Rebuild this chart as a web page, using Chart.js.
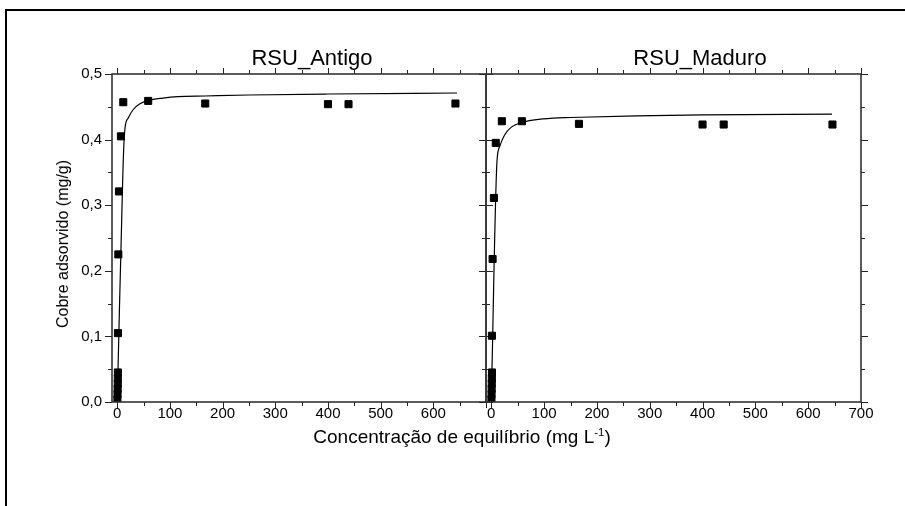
<!DOCTYPE html>
<html>
<head>
<meta charset="utf-8">
<script src="https://cdn.jsdelivr.net/npm/chart.js@4"></script>
<style>
body { margin: 0; background: #fff; }
#wrap { position: relative; width: 905px; height: 506px; overflow: hidden; background: #fff; }
#frame { position: absolute; left: 5px; top: 9px; width: 920px; height: 520px; border-top: 2px solid #000; border-left: 2px solid #000; }
canvas { position: absolute; left: 0; top: 0; }
.lbl { position: absolute; font-family: "Liberation Sans", Arial, sans-serif; color: #000; white-space: nowrap; transform: translate(-50%, -50%); }
.lbl sup { font-size: 60%; }
</style>
</head>
<body>
<div id="wrap">
    <div id="frame"></div>
    <canvas id="antigoChart" width="905" height="506"></canvas>
    <canvas id="maduroChart" width="905" height="506"></canvas>
    <div class="lbl" style="left:312px; top:58px; font-size:22px;">RSU_Antigo</div>
    <div class="lbl" style="left:700px; top:58px; font-size:22px;">RSU_Maduro</div>
    <div class="lbl" style="left:63px; top:244px; font-size:16px; transform: translate(-50%, -50%) rotate(-90deg);">Cobre adsorvido (mg/g)</div>
    <div class="lbl" style="left:462px; top:437px; font-size:19px;">Concentração de equilíbrio (mg L<sup>-1</sup>)</div>
</div>
<script>
// measured points, RSU_Antigo
const antigoX = [0.3, 0.5, 0.7, 0.9, 1.0, 1.2, 1.3, 2, 3.2, 7, 11.4, 58.7, 167, 400, 439, 642];
const antigoY = [0.004, 0.012, 0.02, 0.028, 0.036, 0.045, 0.105, 0.225, 0.321, 0.405, 0.457, 0.459, 0.455, 0.454, 0.454, 0.455];
// fitted curve, RSU_Antigo
const antigoFitX = [0, 11, 14.6, 20.8, 30, 43, 58.7, 87, 115, 167, 250, 400, 645];
const antigoFitY = [0, 0.36, 0.417, 0.433, 0.4455, 0.4545, 0.4595, 0.4633, 0.4655, 0.4665, 0.468, 0.4695, 0.471];

// measured points, RSU_Maduro
const maduroX = [0.3, 0.5, 0.7, 0.9, 1.1, 1.3, 1.2, 2.5, 5, 8.5, 20, 58, 166, 400, 440, 646];
const maduroY = [0.004, 0.012, 0.02, 0.028, 0.036, 0.045, 0.101, 0.218, 0.311, 0.395, 0.428, 0.428, 0.424, 0.423, 0.423, 0.423];
// fitted curve, RSU_Maduro
const maduroFitX = [0, 10.6, 15.7, 25.2, 38, 57, 82, 117, 150, 275, 400, 645];
const maduroFitY = [0, 0.364, 0.389, 0.407, 0.419, 0.426, 0.430, 0.4328, 0.4337, 0.4363, 0.4378, 0.4389];

// tick labels and tick marks
const antigoXLabels = [0, 100, 200, 300, 400, 500, 600];
const maduroXLabels = [0, 100, 200, 300, 400, 500, 600, 700];
const yLabels = [0, 0.1, 0.2, 0.3, 0.4, 0.5];
const xMarks = [0, 50, 100, 150, 200, 250, 300, 350, 400, 450, 500, 550, 600, 650, 700];
const yMarks = [0, 0.05, 0.1, 0.15, 0.2, 0.25, 0.3, 0.35, 0.4, 0.45, 0.5];

Chart.defaults.font.family = '"Liberation Sans", Arial, sans-serif';
Chart.defaults.font.size = 15;
Chart.defaults.color = "#000";

function toPoints(xs, ys) {
    return xs.map((x, i) => ({ x: x, y: ys[i] }));
}

// box round the plot and tick marks on all four sides, pointing out
const boxTicks = {
    id: "boxTicks",
    afterDraw(chart) {
        let ctx = chart.ctx;
        let a = chart.chartArea;
        let sx = chart.scales.x;
        let sy = chart.scales.y;
        ctx.save();
        ctx.strokeStyle = "#222";
        ctx.lineWidth = 1;
        ctx.beginPath();
        xMarks.forEach(v => {
            let px = Math.round(sx.getPixelForValue(v)) + 0.5;
            let len = v % 100 === 0 ? 6 : 4;
            ctx.moveTo(px, a.bottom);
            ctx.lineTo(px, a.bottom + len);
            ctx.moveTo(px, a.top);
            ctx.lineTo(px, a.top - len);
        });
        yMarks.forEach((v, i) => {
            let py = Math.round(sy.getPixelForValue(v)) + 0.5;
            let len = i % 2 === 0 ? 7 : 4;
            ctx.moveTo(a.left, py);
            ctx.lineTo(a.left - len, py);
            ctx.moveTo(a.right, py);
            ctx.lineTo(a.right + len, py);
        });
        ctx.stroke();
        ctx.lineWidth = 1.6;
        ctx.strokeStyle = "#333";
        ctx.strokeRect(a.left, a.top, a.right - a.left, a.bottom - a.top);
        ctx.restore();
    }
};

function makePanel(canvasId, xs, ys, fitXs, fitYs, xLabels, showY, padding) {
    let ctx = document.getElementById(canvasId).getContext("2d");
    return new Chart(ctx, {
        type: "scatter",
        data: {
            datasets: [
                {
                    data: toPoints(xs, ys),
                    pointStyle: "rect",
                    pointRadius: 5,
                    backgroundColor: "#000",
                    borderColor: "#000",
                    borderWidth: 1,
                    order: 0
                },
                {
                    data: toPoints(fitXs, fitYs),
                    showLine: true,
                    pointRadius: 0,
                    borderColor: "#000",
                    borderWidth: 1.2,
                    cubicInterpolationMode: "monotone",
                    order: 1
                }
            ]
        },
        options: {
            responsive: false,
            animation: false,
            events: [],
            layout: { padding: padding },
            plugins: {
                legend: { display: false },
                tooltip: { enabled: false }
            },
            scales: {
                x: {
                    type: "linear",
                    min: -10,
                    max: 700,
                    grid: { display: false, drawTicks: true, tickLength: 3 },
                    border: { display: false },
                    ticks: { padding: 0, maxRotation: 0, autoSkip: false },
                    afterBuildTicks: s => { s.ticks = xLabels.map(v => ({ value: v })); },
                    afterFit: s => { s.height = 30; }
                },
                y: {
                    type: "linear",
                    display: showY,
                    min: 0,
                    max: 0.5,
                    grid: { display: false, drawTicks: true, tickLength: 7 },
                    border: { display: false },
                    ticks: {
                        padding: 3,
                        callback: v => v.toFixed(1).replace(".", ",")
                    },
                    afterBuildTicks: s => { s.ticks = yLabels.map(v => ({ value: v })); },
                    afterFit: s => { s.width = showY ? 40 : 0; }
                }
            }
        },
        plugins: [boxTicks]
    });
}

makePanel("antigoChart", antigoX, antigoY, antigoFitX, antigoFitY, antigoXLabels, true,
    { left: 72, right: 419, top: 74, bottom: 74 });
makePanel("maduroChart", maduroX, maduroY, maduroFitX, maduroFitY, maduroXLabels, false,
    { left: 486, right: 44, top: 74, bottom: 74 });
</script>
</body>
</html>
